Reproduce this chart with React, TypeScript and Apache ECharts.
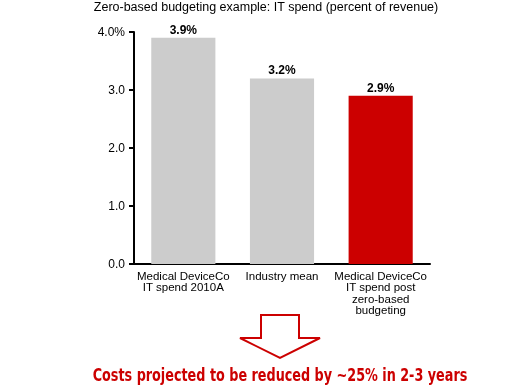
import React, { useEffect, useRef } from "react";
import * as echarts from "echarts";

const categories = [
  "Medical DeviceCo\nIT spend 2010A",
  "Industry mean",
  "Medical DeviceCo\nIT spend post\nzero-based\nbudgeting",
];
const values = [3.9, 3.2, 2.9];
const barColors = ["#cccccc", "#cccccc", "#cc0000"];
const titleText = "Zero-based budgeting example: IT spend (percent of revenue)";
const footerText = "Costs projected to be reduced by ~25% in 2-3 years";

export default function App() {
  const ref = useRef<HTMLDivElement>(null);
  useEffect(() => {
    if (!ref.current) return;
    const chart = echarts.init(ref.current, undefined, { renderer: "svg" });
    const font = "Liberation Sans, Arial, sans-serif";
    chart.setOption({
      animation: false,
      title: {
        text: titleText,
        left: 266,
        textAlign: "center",
        top: 0,
        padding: 0,
        textStyle: { fontSize: 12.5, fontWeight: "normal", color: "#000", fontFamily: font },
      },
      grid: { left: 134, right: 100, top: 32, bottom: 121, containLabel: false },
      xAxis: {
        type: "category",
        data: categories,
        axisLine: { lineStyle: { color: "#000", width: 2 } },
        axisTick: { show: false },
        axisLabel: {
          color: "#000",
          fontSize: 11.5,
          lineHeight: 11.5,
          margin: 6,
          fontFamily: font,
          interval: 0,
        },
      },
      yAxis: {
        type: "value",
        min: 0,
        max: 4,
        interval: 1,
        splitLine: { show: false },
        axisLine: { show: true, lineStyle: { color: "#000", width: 2 } },
        axisTick: { show: true, length: 5, lineStyle: { color: "#000", width: 2 } },
        axisLabel: {
          color: "#000",
          fontSize: 12,
          margin: 9,
          fontFamily: font,
          formatter: (v: number) => (v === 4 ? v.toFixed(1) + "%" : v.toFixed(1)),
        },
      },
      series: [
        {
          type: "bar",
          barWidth: "65%",
          data: values.map((v, i) => ({ value: v, itemStyle: { color: barColors[i] } })),
          label: {
            show: true,
            position: "top",
            distance: 2,
            color: "#000",
            fontWeight: "bold",
            fontSize: 12,
            fontFamily: font,
            formatter: (p: any) => p.value.toFixed(1) + "%",
          },
        },
      ],
      graphic: [
        {
          type: "polygon",
          shape: {
            points: [
              [261, 315],
              [299, 315],
              [299, 338],
              [320, 338],
              [280, 358],
              [240, 338],
              [261, 338],
            ],
          },
          style: { fill: "#fff", stroke: "#cc0000", lineWidth: 2 },
        },
        {
          type: "text",
          x: 280,
          y: 375,
          scaleX: 0.837,
          style: {
            text: footerText,
            align: "center",
            verticalAlign: "middle",
            fill: "#cc0000",
            font: "bold 17px 'DejaVu Sans Condensed', sans-serif",
          },
        },
      ],
    });
    return () => chart.dispose();
  }, []);
  return (
    <div
      ref={ref}
      style={{ position: "fixed", left: 0, top: 0, width: 530, height: 385 }}
    />
  );
}
